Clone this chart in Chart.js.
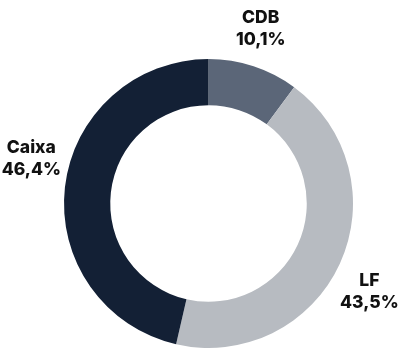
<!DOCTYPE html>
<html>
<head>
<meta charset="utf-8">
<script src="https://cdn.jsdelivr.net/npm/chart.js@4/dist/chart.umd.min.js"></script>
<style>
  html, body { margin: 0; padding: 0; background: #fff; }
  #wrap { width: 403px; height: 350px; }
</style>
</head>
<body>
<div id="wrap"><canvas id="c" width="403" height="350"></canvas></div>
<script>
const categories = ['CDB', 'LF', 'Caixa'];
const shares = [10.1, 43.5, 46.4];
const sliceColors = ['#5b6678', '#b7bbc1', '#132035'];

// Per-slice tweak of the label angle (degrees) and distance from the centre.
const labelAngleShift = [-1.6, 3.8, 8.0];
const labelDistance = 183;

const fmt = v => v.toFixed(1).replace('.', ',') + '%';

const outsideLabels = {
  id: 'outsideLabels',
  afterDatasetsDraw(chart) {
    const ctx = chart.ctx;
    const meta = chart.getDatasetMeta(0);
    ctx.save();
    ctx.font = '800 17.5px Inter, "Open Sans", sans-serif';
    ctx.fillStyle = '#111111';
    ctx.textAlign = 'center';
    ctx.textBaseline = 'middle';
    meta.data.forEach((arc, i) => {
      const mid = (arc.startAngle + arc.endAngle) / 2 + labelAngleShift[i] * Math.PI / 180;
      const x = arc.x + Math.cos(mid) * labelDistance;
      const y = arc.y + Math.sin(mid) * labelDistance;
      ctx.fillText(categories[i], x, y - 10);
      ctx.fillText(fmt(shares[i]), x, y + 12);
    });
    ctx.restore();
  }
};

new Chart(document.getElementById('c'), {
  type: 'doughnut',
  data: {
    labels: categories,
    datasets: [{
      data: shares,
      backgroundColor: sliceColors,
      borderWidth: 0
    }]
  },
  options: {
    responsive: false,
    animation: false,
    cutout: '68%',
    layout: { padding: { top: 59, bottom: 2, left: 64, right: 50 } },
    plugins: {
      legend: { display: false },
      tooltip: { enabled: false }
    }
  },
  plugins: [outsideLabels]
});
</script>
</body>
</html>
